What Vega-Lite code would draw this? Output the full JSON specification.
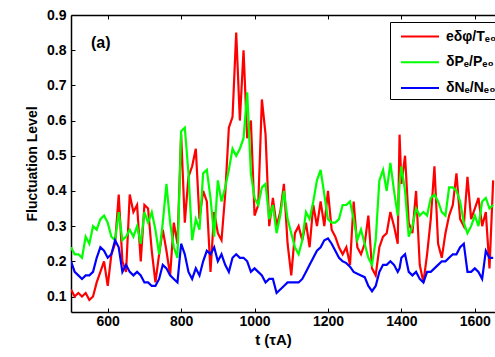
{
  "$schema": "https://vega.github.io/schema/vega-lite/v6.json",
  "autosize": "none",
  "width": 424,
  "height": 297,
  "padding": {"left": 71, "top": 15, "right": 0, "bottom": 45},
  "background": "white",
  "config": {
    "font": "Liberation Sans",
    "view": {"stroke": null},
    "axis": {
      "labelFont": "Liberation Sans", "labelFontWeight": "bold", "labelFontSize": 14, "labelColor": "black",
      "titleFont": "Liberation Sans", "titleFontWeight": "bold", "titleColor": "black",
      "domainColor": "black", "domainWidth": 1.5, "tickColor": "black", "tickWidth": 1, "tickSize": -4, "grid": false
    },
    "legend": {
      "labelFont": "Liberation Sans", "labelFontWeight": "bold", "labelFontSize": 14, "labelColor": "black"
    }
  },
  "data": {"values": [
    {"t":500,"r":0.12,"g":0.24,"b":0.20},{"t":510,"r":0.10,"g":0.22,"b":0.17},{"t":520,"r":0.11,"g":0.22,"b":0.16},{"t":530,"r":0.10,"g":0.21,"b":0.15},
    {"t":540,"r":0.11,"g":0.27,"b":0.16},{"t":550,"r":0.09,"g":0.25,"b":0.16},{"t":560,"r":0.10,"g":0.30,"b":0.17},{"t":570,"r":0.14,"g":0.29,"b":0.21},
    {"t":580,"r":0.17,"g":0.32,"b":0.24},{"t":590,"r":0.20,"g":0.33,"b":0.23},{"t":600,"r":0.13,"g":0.31,"b":0.21},{"t":610,"r":0.22,"g":0.27,"b":0.22},
    {"t":620,"r":0.25,"g":0.26,"b":0.26},{"t":630,"r":0.39,"g":0.34,"b":0.24},{"t":640,"r":0.20,"g":0.26,"b":0.17},{"t":650,"r":0.17,"g":0.27,"b":0.19},
    {"t":660,"r":0.39,"g":0.29,"b":0.17},{"t":670,"r":0.34,"g":0.27,"b":0.16},{"t":680,"r":0.36,"g":0.30,"b":0.17},{"t":690,"r":0.20,"g":0.25,"b":0.16},
    {"t":700,"r":0.36,"g":0.34,"b":0.14},{"t":710,"r":0.35,"g":0.31,"b":0.14},{"t":720,"r":0.23,"g":0.34,"b":0.13},{"t":730,"r":0.14,"g":0.29,"b":0.13},
    {"t":740,"r":0.22,"g":0.22,"b":0.15},{"t":750,"r":0.29,"g":0.31,"b":0.19},{"t":760,"r":0.23,"g":0.42,"b":0.18},{"t":770,"r":0.16,"g":0.31,"b":0.16},
    {"t":780,"r":0.31,"g":0.24,"b":0.15},{"t":790,"r":0.25,"g":0.21,"b":0.14},{"t":800,"r":0.56,"g":0.57,"b":0.25},{"t":810,"r":0.31,"g":0.58,"b":0.22},
    {"t":820,"r":0.44,"g":0.45,"b":0.17},{"t":830,"r":0.47,"g":0.26,"b":0.15},{"t":840,"r":0.52,"g":0.32,"b":0.18},{"t":850,"r":0.32,"g":0.29,"b":0.16},
    {"t":860,"r":0.40,"g":0.45,"b":0.20},{"t":870,"r":0.37,"g":0.46,"b":0.23},{"t":880,"r":0.17,"g":0.38,"b":0.22},{"t":890,"r":0.34,"g":0.27,"b":0.24},
    {"t":900,"r":0.28,"g":0.43,"b":0.20},{"t":910,"r":0.26,"g":0.37,"b":0.22},{"t":920,"r":0.39,"g":0.41,"b":0.19},{"t":930,"r":0.58,"g":0.46,"b":0.17},
    {"t":940,"r":0.61,"g":0.52,"b":0.21},{"t":950,"r":0.85,"g":0.50,"b":0.22},{"t":960,"r":0.60,"g":0.52,"b":0.21},{"t":970,"r":0.80,"g":0.55,"b":0.21},
    {"t":980,"r":0.55,"g":0.68,"b":0.20},{"t":990,"r":0.60,"g":0.45,"b":0.17},{"t":1000,"r":0.33,"g":0.38,"b":0.18},{"t":1010,"r":0.36,"g":0.36,"b":0.17},
    {"t":1020,"r":0.66,"g":0.41,"b":0.16},{"t":1030,"r":0.56,"g":0.42,"b":0.14},{"t":1040,"r":0.30,"g":0.32,"b":0.15},{"t":1050,"r":0.38,"g":0.36,"b":0.15},
    {"t":1060,"r":0.30,"g":0.28,"b":0.11},{"t":1070,"r":0.34,"g":0.33,"b":0.12},{"t":1080,"r":0.42,"g":0.40,"b":0.13},{"t":1090,"r":0.25,"g":0.32,"b":0.14},
    {"t":1100,"r":0.16,"g":0.28,"b":0.14},{"t":1110,"r":0.28,"g":0.24,"b":0.14},{"t":1120,"r":0.30,"g":0.22,"b":0.14},{"t":1130,"r":0.26,"g":0.26,"b":0.15},
    {"t":1140,"r":0.31,"g":0.34,"b":0.17},{"t":1150,"r":0.24,"g":0.32,"b":0.19},{"t":1160,"r":0.36,"g":0.37,"b":0.21},{"t":1170,"r":0.30,"g":0.43,"b":0.23},
    {"t":1180,"r":0.37,"g":0.46,"b":0.24},{"t":1190,"r":0.30,"g":0.39,"b":0.26},{"t":1200,"r":0.40,"g":0.32,"b":0.265},{"t":1210,"r":0.29,"g":0.31,"b":0.25},
    {"t":1220,"r":0.27,"g":0.31,"b":0.23},{"t":1230,"r":0.24,"g":0.32,"b":0.21},{"t":1240,"r":0.22,"g":0.36,"b":0.20},{"t":1250,"r":0.24,"g":0.36,"b":0.195},
    {"t":1260,"r":0.19,"g":0.37,"b":0.185},{"t":1270,"r":0.37,"g":0.32,"b":0.17},{"t":1280,"r":0.24,"g":0.26,"b":0.165},{"t":1290,"r":0.22,"g":0.29,"b":0.16},
    {"t":1300,"r":0.25,"g":0.25,"b":0.155},{"t":1310,"r":0.33,"g":0.21,"b":0.13},{"t":1320,"r":0.18,"g":0.19,"b":0.115},{"t":1330,"r":0.16,"g":0.26,"b":0.13},
    {"t":1340,"r":0.24,"g":0.43,"b":0.17},{"t":1350,"r":0.27,"g":0.46,"b":0.19},{"t":1360,"r":0.28,"g":0.40,"b":0.19},{"t":1370,"r":0.34,"g":0.48,"b":0.20},
    {"t":1380,"r":0.30,"g":0.40,"b":0.19},{"t":1390,"r":0.25,"g":0.33,"b":0.17},{"t":1395,"r":0.56,"g":0.42,"b":0.18},{"t":1400,"r":0.42,"g":0.47,"b":0.21},
    {"t":1410,"r":0.50,"g":0.40,"b":0.22},{"t":1420,"r":0.31,"g":0.27,"b":0.17},{"t":1430,"r":0.28,"g":0.30,"b":0.16},{"t":1440,"r":0.40,"g":0.35,"b":0.17},
    {"t":1450,"r":0.19,"g":0.33,"b":0.15},{"t":1460,"r":0.14,"g":0.34,"b":0.14},{"t":1470,"r":0.22,"g":0.33,"b":0.17},{"t":1480,"r":0.32,"g":0.38,"b":0.17},
    {"t":1490,"r":0.47,"g":0.39,"b":0.18},{"t":1500,"r":0.25,"g":0.37,"b":0.19},{"t":1510,"r":0.21,"g":0.34,"b":0.20},{"t":1520,"r":0.28,"g":0.33,"b":0.20},
    {"t":1530,"r":0.33,"g":0.41,"b":0.21},{"t":1540,"r":0.36,"g":0.41,"b":0.22},{"t":1550,"r":0.45,"g":0.40,"b":0.22},{"t":1560,"r":0.32,"g":0.37,"b":0.24},
    {"t":1570,"r":0.30,"g":0.31,"b":0.25},{"t":1580,"r":0.44,"g":0.28,"b":0.17},{"t":1590,"r":0.32,"g":0.30,"b":0.17},{"t":1600,"r":0.35,"g":0.33,"b":0.18},
    {"t":1610,"r":0.38,"g":0.30,"b":0.17},{"t":1620,"r":0.30,"g":0.37,"b":0.15},{"t":1630,"r":0.34,"g":0.38,"b":0.23},{"t":1640,"r":0.18,"g":0.35,"b":0.21},
    {"t":1650,"r":0.43,"g":0.36,"b":0.21}
  ]},
  "resolve": {"axis": {"x": "independent", "y": "independent"}},
  "layer": [
    {
      "mark": {"type": "line", "strokeWidth": 2.2, "clip": true},
      "encoding": {
        "x": {"field": "t", "type": "quantitative",
              "scale": {"domain": [500, 1655], "nice": false, "zero": false},
              "axis": {"orient": "bottom", "values": [600, 800, 1000, 1200, 1400, 1600], "format": "d", "labelPadding": 6, "title": "t (τA)", "titleFontSize": 15, "titlePadding": 4, "titleX": 202}},
        "y": {"field": "r", "type": "quantitative",
              "scale": {"domain": [0.056, 0.9], "nice": false, "zero": false},
              "axis": {"orient": "left", "values": [0.1, 0.2, 0.3, 0.4, 0.5, 0.6, 0.7, 0.8, 0.9], "format": ".1f", "labelPadding": 9, "title": "Fluctuation Level", "titleFontSize": 14, "titlePadding": 7}},
        "color": {"datum": "eδφ/Tₑ₀", "type": "nominal",
                  "scale": {"domain": ["eδφ/Tₑ₀", "δPₑ/Pₑ₀", "δNₑ/Nₑ₀"], "range": ["#ff0000", "#00ff00", "#0000ff"]},
                  "legend": {"orient": "none", "legendX": 319, "legendY": 7, "title": null,
                             "symbolType": "M-1,0H3", "symbolSize": 361, "symbolStrokeWidth": 2,
                             "strokeColor": "black", "fillColor": "white", "padding": 4, "symbolOffset": 6,
                             "rowPadding": 7.7, "labelOffset": 25, "cornerRadius": 0}}
      }
    },
    {
      "mark": {"type": "line", "strokeWidth": 2.2, "clip": true},
      "encoding": {
        "x": {"field": "t", "type": "quantitative",
              "axis": {"orient": "top", "values": [600, 800, 1000, 1200, 1400, 1600], "labels": false, "title": null}},
        "y": {"field": "g", "type": "quantitative", "axis": null},
        "color": {"datum": "δPₑ/Pₑ₀", "type": "nominal"}
      }
    },
    {
      "mark": {"type": "line", "strokeWidth": 2.2, "clip": true},
      "encoding": {
        "x": {"field": "t", "type": "quantitative", "axis": null},
        "y": {"field": "b", "type": "quantitative", "axis": null},
        "color": {"datum": "δNₑ/Nₑ₀", "type": "nominal"}
      }
    },
    {
      "data": {"values": [{"label": "(a)"}]},
      "mark": {"type": "text", "fontSize": 16, "fontWeight": "bold", "font": "Liberation Sans", "align": "center", "baseline": "middle", "color": "black"},
      "encoding": {
        "text": {"field": "label"},
        "x": {"datum": 581, "type": "quantitative", "axis": null},
        "y": {"datum": 0.82, "type": "quantitative", "axis": null}
      }
    }
  ]
}
